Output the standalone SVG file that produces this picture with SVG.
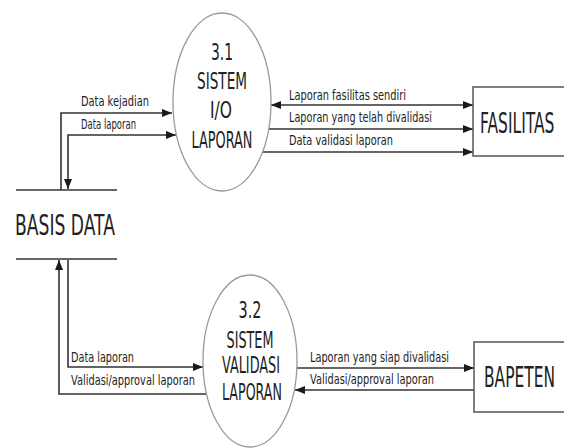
<svg xmlns="http://www.w3.org/2000/svg" width="564" height="448" viewBox="0 0 564 448">
<defs>
<marker id="arr" markerWidth="10" markerHeight="8" refX="10" refY="4" orient="auto-start-reverse" markerUnits="userSpaceOnUse">
<path d="M0,0 L10,4 L0,8 z" fill="#1a1a1a"/>
</marker>
<style>
.bg{fill:#fff}
.proc{fill:#fff;stroke:#9a9a9a;stroke-width:1.3}
.ent{fill:#fff;stroke:#555;stroke-width:1.5}
.store{stroke:#333;stroke-width:1.5}
.flow{fill:none;stroke:#333;stroke-width:1.6;marker-end:url(#arr)}
.both{marker-start:url(#arr)}
.big{font-family:"DejaVu Sans",Verdana,sans-serif;font-size:23px;fill:#222;text-anchor:middle}
.box{font-family:"DejaVu Sans",Verdana,sans-serif;font-size:28px;fill:#222}
.lbl{font-family:"DejaVu Sans",Verdana,sans-serif;font-size:13.5px;fill:#222}
</style>
</defs>
<rect class="bg" x="0" y="0" width="564" height="448"/>

<g id="connectors">
<path class="flow" d="M61,190 V113 H172"/>
<path class="flow both" d="M176,135 H68 V189"/>
<path class="flow both" d="M271,105 H473"/>
<path class="flow" d="M269,129 H473"/>
<path class="flow" d="M262,152 H473"/>
<path class="flow" d="M207,394 H59 V260"/>
<path class="flow" d="M68,260 V367 H203"/>
<path class="flow" d="M297,368 H474"/>
<path class="flow" d="M474,390 H295"/>
<text class="lbl" x="81" y="106" textLength="68" lengthAdjust="spacingAndGlyphs">Data kejadian</text>
<text class="lbl" x="81" y="129" textLength="55" lengthAdjust="spacingAndGlyphs">Data laporan</text>
<text class="lbl" x="289" y="100" textLength="117" lengthAdjust="spacingAndGlyphs">Laporan fasilitas sendiri</text>
<text class="lbl" x="289" y="122" textLength="143" lengthAdjust="spacingAndGlyphs">Laporan yang telah divalidasi</text>
<text class="lbl" x="289" y="145" textLength="104" lengthAdjust="spacingAndGlyphs">Data validasi laporan</text>
<text class="lbl" x="71" y="362" textLength="63" lengthAdjust="spacingAndGlyphs">Data laporan</text>
<text class="lbl" x="71" y="385" textLength="124" lengthAdjust="spacingAndGlyphs">Validasi/approval laporan</text>
<text class="lbl" x="310" y="362" textLength="139" lengthAdjust="spacingAndGlyphs">Laporan yang siap divalidasi</text>
<text class="lbl" x="310" y="384" textLength="124" lengthAdjust="spacingAndGlyphs">Validasi/approval laporan</text>
</g>

<g id="p31">
<ellipse class="proc" cx="222" cy="102" rx="49" ry="89"/>
<text class="big" x="222" y="60" textLength="22" lengthAdjust="spacingAndGlyphs">3.1</text>
<text class="big" x="222" y="89" textLength="50" lengthAdjust="spacingAndGlyphs">SISTEM</text>
<text class="big" x="221" y="118" textLength="22" lengthAdjust="spacingAndGlyphs">I/O</text>
<text class="big" x="222" y="148" textLength="61" lengthAdjust="spacingAndGlyphs">LAPORAN</text>
</g>

<g id="p32">
<ellipse class="proc" cx="250" cy="361" rx="47" ry="86"/>
<text class="big" x="250" y="318" textLength="23" lengthAdjust="spacingAndGlyphs">3.2</text>
<text class="big" x="250" y="348" textLength="47" lengthAdjust="spacingAndGlyphs">SISTEM</text>
<text class="big" x="251" y="373" textLength="58" lengthAdjust="spacingAndGlyphs">VALIDASI</text>
<text class="big" x="252" y="400" textLength="60" lengthAdjust="spacingAndGlyphs">LAPORAN</text>
</g>

<g id="basisdata">
<line class="store" x1="16" y1="190" x2="117" y2="190"/>
<line class="store" x1="16" y1="259" x2="117" y2="259"/>
<text class="box" x="15" y="235" textLength="100" lengthAdjust="spacingAndGlyphs">BASIS DATA</text>
</g>

<g id="fasilitas">
<rect class="ent" x="473" y="87" width="100" height="69"/>
<text class="box" transform="translate(480,133) scale(0.554,1)" x="0" y="0">FASILITAS</text>
</g>

<g id="bapeten">
<rect class="ent" x="474" y="342" width="100" height="70"/>
<text class="box" transform="translate(484,387) scale(0.552,1)" x="0" y="0">BAPETEN</text>
</g>
</svg>
